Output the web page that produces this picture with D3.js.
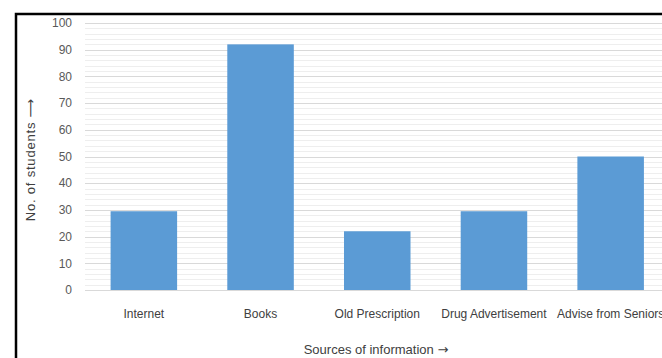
<!DOCTYPE html>
<html><head><meta charset="utf-8">
<script src="https://cdn.jsdelivr.net/npm/d3@7"></script>
<style>body{margin:0;background:#fff;} svg{display:block;}</style>
</head><body>
<script>
const categories = ["Internet","Books","Old Prescription","Drug Advertisement","Advise from Seniors"];
const values = [29.5, 92, 22, 29.5, 50];
const yTicks = [0,10,20,30,40,50,60,70,80,90,100];
const minorTicks = d3.range(0, 101, 2);

const W = 662, H = 358;
const svg = d3.select("body").append("svg").attr("width", W).attr("height", H);
const font = "'Liberation Sans Narrow', 'Liberation Sans', Arial, sans-serif";

// frame
svg.append("path").attr("d", "M16,358 L16,14 L662,14").attr("fill","none").attr("stroke","#000").attr("stroke-width",2.5);

const x = d3.scaleBand().domain(categories).range([85.5, 669]).paddingInner(0.43).paddingOuter(0.215);
const y = d3.scaleLinear().domain([0,100]).range([290, 23]);

// minor grid
svg.append("g").selectAll("line").data(minorTicks.filter(d => d % 10 !== 0)).join("line")
  .attr("x1", 85).attr("x2", 662).attr("y1", d => Math.round(y(d))+0.5).attr("y2", d => Math.round(y(d))+0.5)
  .attr("stroke", "#eeeeee").attr("stroke-width", 1);
// major grid
svg.append("g").selectAll("line").data(yTicks).join("line")
  .attr("x1", 85).attr("x2", 662).attr("y1", d => Math.round(y(d))+0.5).attr("y2", d => Math.round(y(d))+0.5)
  .attr("stroke", "#d9d9d9").attr("stroke-width", 1);

// y tick labels
svg.append("g").selectAll("text").data(yTicks).join("text")
  .attr("x", 72).attr("y", d => y(d)).attr("dy", "0.35em").attr("text-anchor","end")
  .attr("font-family", font).attr("font-size", 12).attr("fill", "#595959").text(d => d);

// bars
svg.append("g").selectAll("rect").data(values).join("rect")
  .attr("x", (d,i) => x(categories[i])).attr("width", x.bandwidth())
  .attr("y", d => y(d)).attr("height", d => y(0) - y(d))
  .attr("fill", "#5b9bd5");

// category labels
svg.append("g").selectAll("text").data(categories).join("text")
  .attr("x", d => x(d) + x.bandwidth()/2).attr("y", 318).attr("text-anchor","middle")
  .attr("font-family", font).attr("font-size", 12).attr("fill", "#404040").text(d => d);

// axis titles
const xt = svg.append("text").attr("x", 376).attr("y", 354).attr("text-anchor","middle")
  .attr("font-family", font).attr("font-size", 13).attr("fill", "#404040");
xt.append("tspan").text("Sources of information ");
xt.append("tspan").attr("font-family","'DejaVu Sans', sans-serif").attr("font-size", 13).text("\u2192");

const yt = svg.append("text").attr("transform", "translate(35,160) rotate(-90)").attr("text-anchor","middle")
  .attr("font-family", font).attr("font-size", 13).attr("fill", "#404040").attr("letter-spacing", 0.8);
yt.append("tspan").text("No. of students ");
yt.append("tspan").attr("font-family","'DejaVu Sans', sans-serif").attr("font-size", 13).attr("letter-spacing", 0).text("\u27F6");
</script>
</body></html>
